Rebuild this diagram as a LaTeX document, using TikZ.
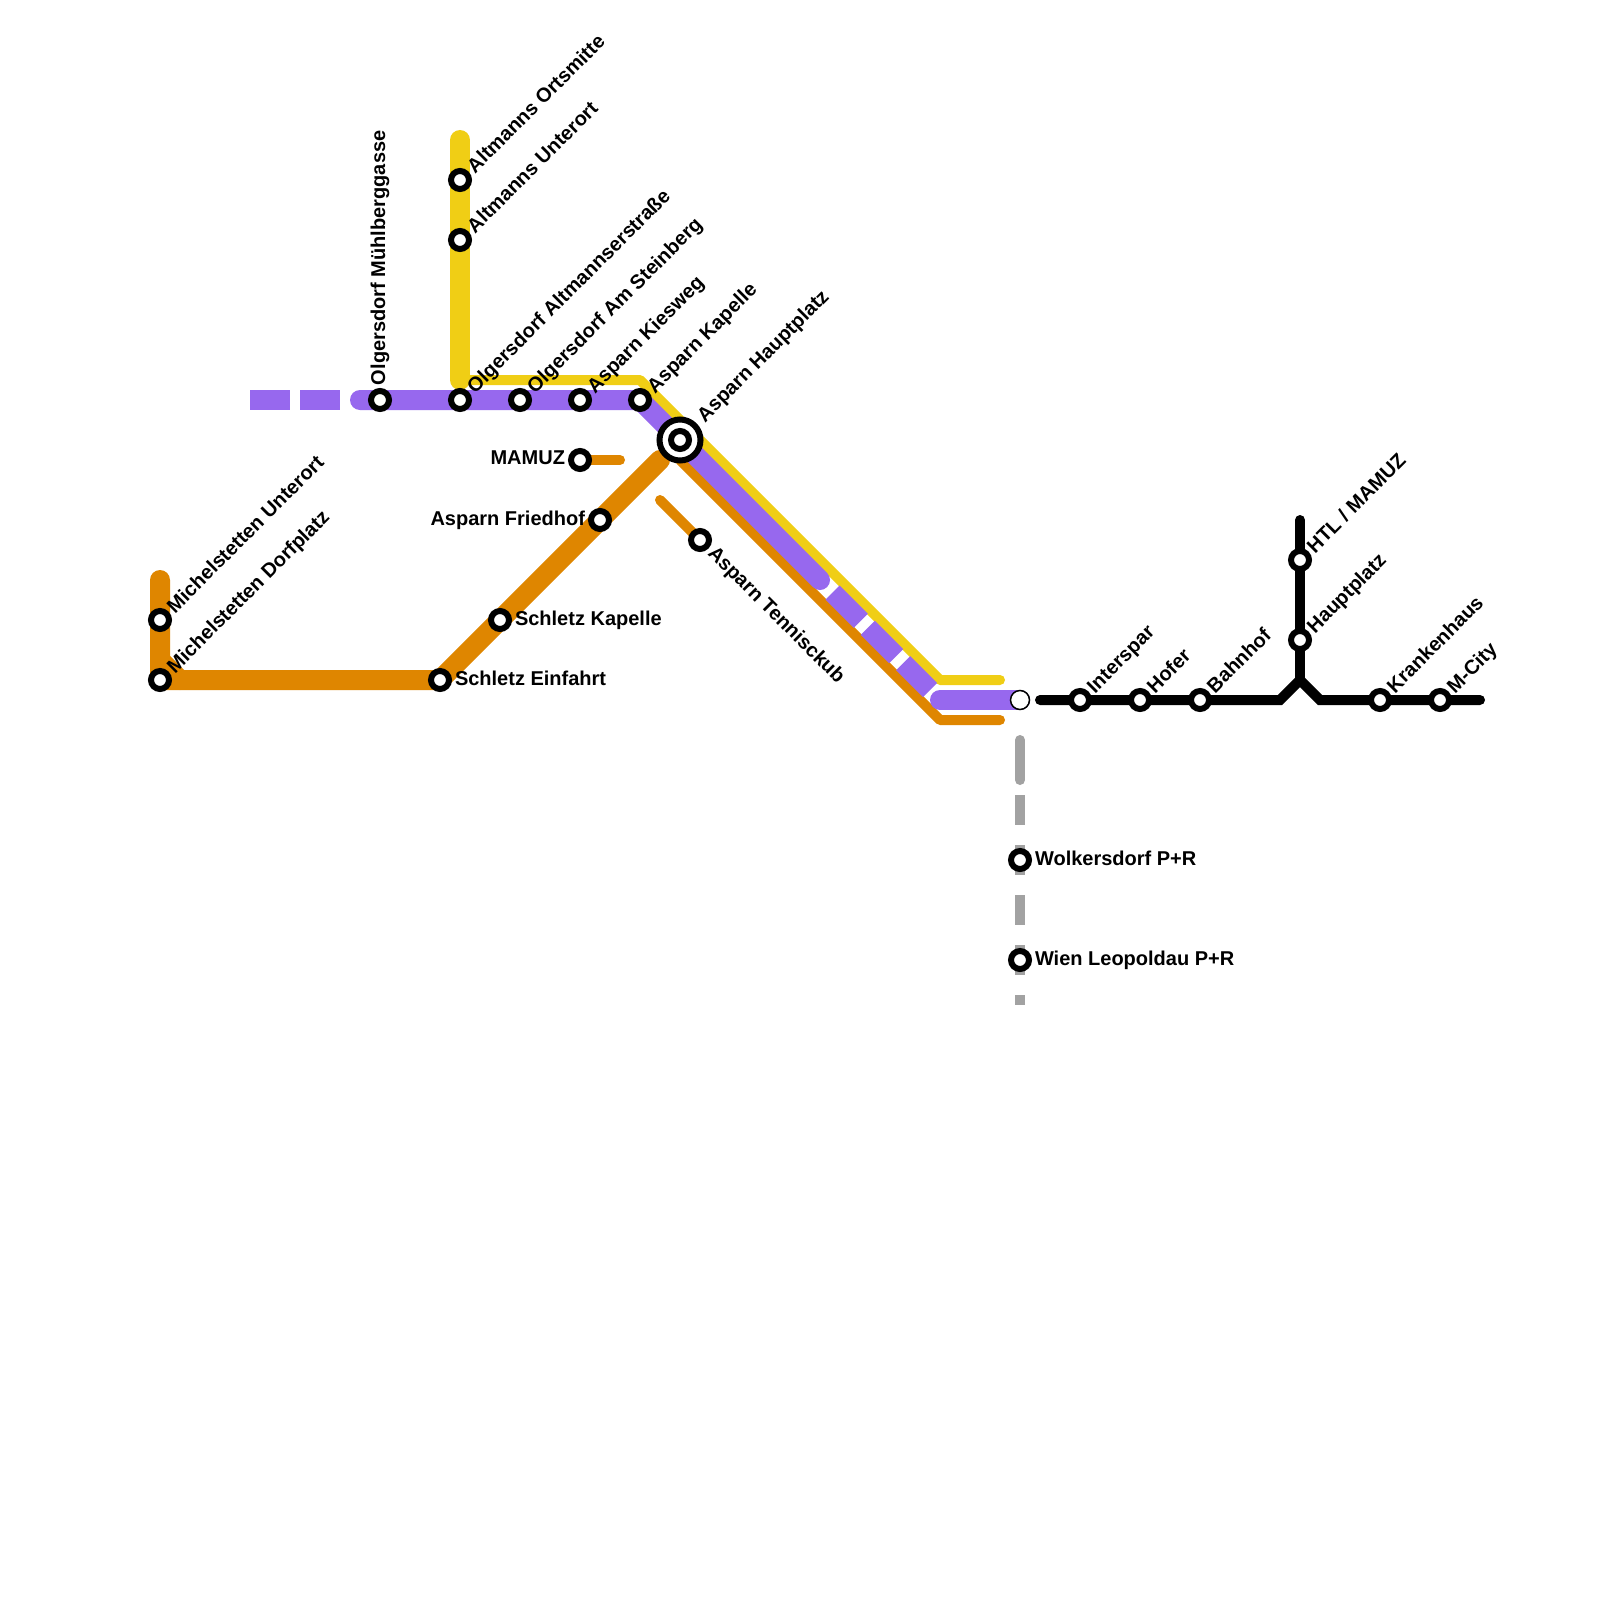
\documentclass[tikz,border=0pt]{standalone}
\usepackage{fontspec}
\setmainfont{Liberation Sans}
\definecolor{cpurple}{HTML}{9768EE}
\definecolor{cyellow}{HTML}{F0CE15}
\definecolor{corange}{HTML}{DF8600}
\definecolor{cgrey}{HTML}{A2A2A2}
\tikzset{
  px/.style={x=1pt,y=-1pt},
  thickline/.style={line width=20pt,line cap=round,line join=round},
  thinline/.style={line width=10pt,line cap=round,line join=round},
  blackline/.style={line width=10pt,line cap=round,line join=miter,black},
  stop/.style={circle,draw=black,fill=white,line width=6pt,minimum size=18pt,inner sep=0pt,outer sep=0pt},
  terminus/.style={circle,draw=black,fill=white,line width=1.5pt,minimum size=19pt,inner sep=0pt,outer sep=0pt},
  hubouter/.style={circle,draw=black,fill=white,line width=6pt,minimum size=41pt,inner sep=0pt,outer sep=0pt},
  lab/.style={font=\bfseries\fontsize{20}{20}\selectfont,inner sep=0pt,outer sep=0pt,text=black},
  labne/.style={lab,rotate=45,anchor=base west},
  labn/.style={lab,rotate=90,anchor=base west},
  labse/.style={lab,rotate=-45,anchor=base west},
  labe/.style={lab,anchor=base west},
  labw/.style={lab,anchor=base east},
}
\begin{document}
\begin{tikzpicture}[px]
\useasboundingbox (0,0) rectangle (1600,1600);
\fill[white] (0,0) rectangle (1600,1600);
% free coordinates
\coordinate (oTop) at (160,580);
\coordinate (oKnee) at (160,660);
\coordinate (oKneeB) at (180,680);
\coordinate (oEnd) at (660,460);
\coordinate (oThinA) at (680,460);
\coordinate (oThinB) at (940,720);
\coordinate (oThinC) at (1000,720);
\coordinate (mamuzEnd) at (620,460);
\coordinate (tennisStart) at (660,500);
\coordinate (yTop) at (460,140);
\coordinate (yBend) at (460,380);
\coordinate (yB) at (640,380);
\coordinate (yC) at (940,680);
\coordinate (yD) at (1000,680);
\coordinate (pDashA) at (250,400);
\coordinate (pDashB) at (340,400);
\coordinate (pStart) at (360,400);
\coordinate (pSolidEnd) at (820,580);
\coordinate (pGapA) at (832.5,592.5);
\coordinate (pGapB) at (930,690);
\coordinate (pLast) at (940,700);
\coordinate (gA) at (1020,740);
\coordinate (gB) at (1020,780);
\coordinate (gC) at (1020,795);
\coordinate (gD) at (1020,1005);
\coordinate (kStart) at (1040,700);
\coordinate (kA) at (1280,700);
\coordinate (kApex) at (1300,680);
\coordinate (kB) at (1320,700);
\coordinate (kEnd) at (1480,700);
\coordinate (kTop) at (1300,520);
% station positions used by the lines
\coordinate (pKap) at (640,400);
\coordinate (pHub) at (680,440);
\coordinate (pFin) at (1020,700);
\coordinate (oCorner) at (160,680);
\coordinate (oEin) at (440,680);
\coordinate (oMam) at (580,460);
\coordinate (oTen) at (700,540);
% lines
\draw[thickline,corange] (oTop) -- (oCorner) -- (oEin) -- (oEnd);
\draw[thickline,corange] (oKnee) -- (oKneeB);
\draw[thinline,corange] (oThinA) -- (oThinB) -- (oThinC);
\draw[thinline,corange] (oMam) -- (mamuzEnd);
\draw[thinline,corange] (tennisStart) -- (oTen);
\draw[thickline,cyellow] (yTop) -- (yBend);
\draw[thinline,cyellow] (yBend) -- (yB) -- (yC) -- (yD);
\draw[line width=20pt,cpurple,dash pattern=on 40pt off 10pt] (pDashA) -- (pDashB);
\draw[thickline,cpurple] (pStart) -- (pKap) -- (pHub) -- (pSolidEnd);
\draw[line width=20pt,cpurple,dash pattern=on 40pt off 10pt] (pGapA) -- (pGapB);
\draw[thickline,cpurple] (pLast) -- (pFin);
\draw[thinline,cgrey] (gA) -- (gB);
\draw[line width=10pt,cgrey,dash pattern=on 30pt off 20pt] (gC) -- (gD);
\draw[blackline] (kStart) -- (kA) -- (kApex) -- (kB) -- (kEnd);
\draw[blackline] (kTop) -- (kApex);
% stations
\node[stop] (s1) at (160,620) {};
\node[stop] (s2) at (160,680) {};
\node[stop] (s3) at (440,680) {};
\node[stop] (s4) at (500,620) {};
\node[stop] (s5) at (600,520) {};
\node[stop] (s6) at (580,460) {};
\node[hubouter] (hub) at (680,440) {};
\node[stop] (s7) at (680,440) {};
\node[stop] (s8) at (700,540) {};
\node[stop] (s9) at (380,400) {};
\node[stop] (s10) at (460,400) {};
\node[stop] (s11) at (520,400) {};
\node[stop] (s12) at (580,400) {};
\node[stop] (s13) at (640,400) {};
\node[stop] (s14) at (460,180) {};
\node[stop] (s15) at (460,240) {};
\node[terminus] (s16) at (1020,700) {};
\node[stop] (s17) at (1080,700) {};
\node[stop] (s18) at (1140,700) {};
\node[stop] (s19) at (1200,700) {};
\node[stop] (s20) at (1300,560) {};
\node[stop] (s21) at (1300,640) {};
\node[stop] (s22) at (1380,700) {};
\node[stop] (s23) at (1440,700) {};
\node[stop] (s24) at (1020,860) {};
\node[stop] (s25) at (1020,960) {};
% labels
\node[labne] (l1) at (175,614) {Michelstetten Unterort};
\node[labne] (l2) at (175,674) {Michelstetten Dorfplatz};
\node[labe] (l3) at (455,685) {Schletz Einfahrt};
\node[labe] (l4) at (515,625) {Schletz Kapelle};
\node[labw] (l5) at (585,525) {Asparn Friedhof};
\node[labw] (l6) at (565,464.5) {MAMUZ};
\node[labne] (l7) at (705,423) {Asparn Hauptplatz};
\node[labse] (l8) at (707,554) {Asparn Tennisckub};
\node[labn] (l9) at (385,385) {Olgersdorf Mühlberggasse};
\node[labne] (l10) at (475,394) {Olgersdorf Altmannserstraße};
\node[labne] (l11) at (535,394) {Olgersdorf Am Steinberg};
\node[labne] (l12) at (595,394) {Asparn Kiesweg};
\node[labne] (l13) at (655,394) {Asparn Kapelle};
\node[labne] (l14) at (475,174) {Altmanns Ortsmitte};
\node[labne] (l15) at (475,234) {Altmanns Unterort};
\node[labne] (l16) at (1095,694) {Interspar};
\node[labne] (l17) at (1155,694) {Hofer};
\node[labne] (l18) at (1215,694) {Bahnhof};
\node[labne] (l19) at (1315,554) {HTL / MAMUZ};
\node[labne] (l20) at (1315,634) {Hauptplatz};
\node[labne] (l21) at (1395,694) {Krankenhaus};
\node[labne] (l22) at (1455,694) {M-City};
\node[labe] (l23) at (1035,865) {Wolkersdorf P+R};
\node[labe] (l24) at (1035,965) {Wien Leopoldau P+R};
\end{tikzpicture}
\end{document}
